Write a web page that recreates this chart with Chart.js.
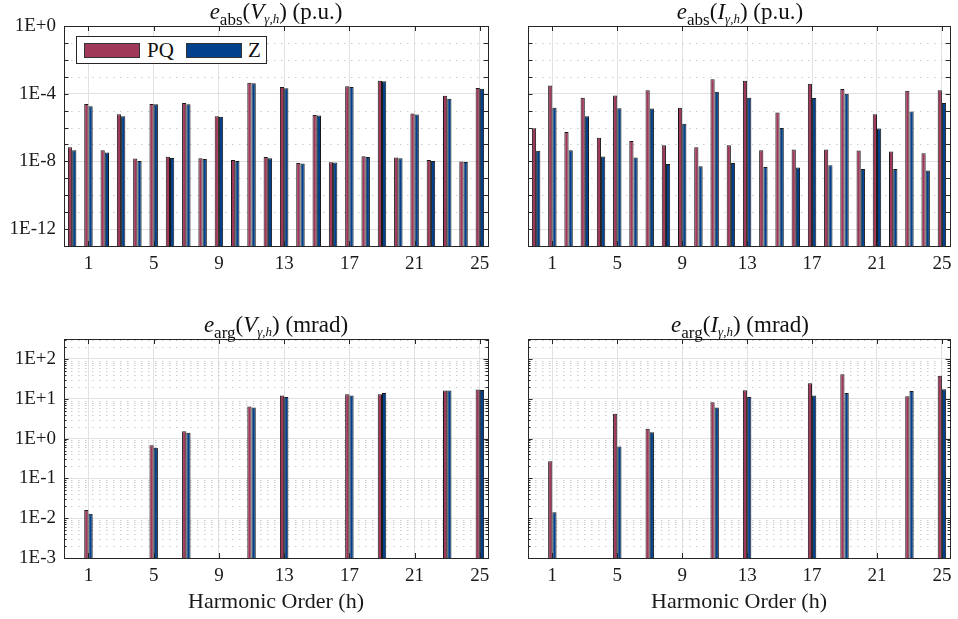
<!DOCTYPE html>
<html>
<head>
<meta charset="utf-8">
<script src="https://cdn.jsdelivr.net/npm/chart.js@4.4.0/dist/chart.umd.min.js"></script>
<style>
  body { margin: 0; background: #fff; }
  #wrap { position: relative; width: 958px; height: 619px; font-family: 'Liberation Serif', 'DejaVu Serif', serif; color: #111; }
  canvas { position: absolute; }
  .title { position: absolute; font-size: 23px; line-height: 22px; white-space: nowrap; transform: translateX(-50%); }
  .title sub { font-size: 17px; line-height: 0; vertical-align: -6px; }
  .title sub.s2 { font-size: 13px; vertical-align: -4px; }
  #legend { position: absolute; left: 76px; top: 36px; width: 189px; height: 26px; border: 1px solid #262626; background: #fff; }
  #legend .patch { position: absolute; top: 6px; width: 54px; height: 13px; border: 1px solid #333; }
  #legend .lab { position: absolute; top: 2px; font-size: 21px; line-height: 22px; }
</style>
</head>
<body>
<div id="wrap">
  <canvas id="vAbs" width="500" height="300" style="left:0;top:0"></canvas>
  <canvas id="iAbs" width="480" height="300" style="left:478px;top:0"></canvas>
  <canvas id="vArg" width="500" height="319" style="left:0;top:300px"></canvas>
  <canvas id="iArg" width="480" height="319" style="left:478px;top:300px"></canvas>

  <div class="title" style="left:276px;top:1px"><i>e</i><sub>abs</sub>(<i>V</i><sub class="s2"><i>γ</i>,<i>h</i></sub>) (p.u.)</div>
  <div class="title" style="left:740px;top:1px"><i>e</i><sub>abs</sub>(<i>I</i><sub class="s2"><i>γ</i>,<i>h</i></sub>) (p.u.)</div>
  <div class="title" style="left:276px;top:314px"><i>e</i><sub>arg</sub>(<i>V</i><sub class="s2"><i>γ</i>,<i>h</i></sub>) (mrad)</div>
  <div class="title" style="left:740px;top:314px"><i>e</i><sub>arg</sub>(<i>I</i><sub class="s2"><i>γ</i>,<i>h</i></sub>) (mrad)</div>

  <div id="legend">
    <span class="patch" style="left:7px;background:#A0385A"></span><span class="lab" style="left:70px">PQ</span>
    <span class="patch" style="left:109px;background:#00408C"></span><span class="lab" style="left:171px">Z</span>
  </div>
</div>
<script>
// harmonic orders 0..25
const harmonics = ['0', '1', '2', '3', '4', '5', '6', '7', '8', '9', '10', '11', '12',
  '13', '14', '15', '16', '17', '18', '19', '20', '21', '22', '23', '24', '25'];
const xTicks = [1, 5, 9, 13, 17, 21, 25];

// e_abs(V) p.u.
const vAbsPQ = [6.9e-8, 2.5e-5, 4.6e-8, 6.2e-6, 1.5e-8, 2.5e-5, 1.9e-8, 2.8e-5, 1.55e-8, 4.7e-6,
  1.2e-8, 4.5e-4, 1.8e-8, 2.5e-4, 8.1e-9, 5.6e-6, 8.9e-9, 2.8e-4, 2.0e-8, 5.9e-4,
  1.7e-8, 6.8e-6, 1.2e-8, 7.6e-5, 1.0e-8, 2.2e-4];
const vAbsZ = [4.6e-8, 1.8e-5, 3.3e-8, 4.7e-6, 1.07e-8, 2.4e-5, 1.6e-8, 2.4e-5, 1.4e-8, 4.4e-6,
  1.07e-8, 4.1e-4, 1.55e-8, 2.1e-4, 7.4e-9, 5.1e-6, 8.5e-9, 2.5e-4, 1.8e-8, 5.4e-4,
  1.55e-8, 5.9e-6, 1.07e-8, 5.0e-5, 9.3e-9, 1.95e-4];

// e_abs(I) p.u.
const iAbsPQ = [9.1e-7, 3.1e-4, 5.4e-7, 5.8e-5, 2.5e-7, 7.9e-5, 1.6e-7, 1.6e-4, 9.1e-8, 1.5e-5,
  6.9e-8, 7.2e-4, 9.1e-8, 5.9e-4, 4.6e-8, 7.8e-6, 5.0e-8, 3.9e-4, 5.0e-8, 1.9e-4,
  4.4e-8, 6.2e-6, 3.8e-8, 1.5e-4, 3.0e-8, 1.6e-4];
const iAbsZ = [4.2e-8, 1.5e-5, 4.6e-8, 4.7e-6, 1.95e-8, 1.4e-5, 1.7e-8, 1.35e-5, 7.1e-9, 1.7e-6,
  5.2e-9, 1.3e-4, 8.1e-9, 5.8e-5, 4.6e-9, 9.5e-7, 4.4e-9, 5.5e-5, 6.0e-9, 1.0e-4,
  3.5e-9, 8.7e-7, 3.5e-9, 8.9e-6, 2.9e-9, 2.8e-5];

// e_arg(V) mrad (no bar where null)
const vArgPQ = [null, 0.016, null, null, null, 0.68, null, 1.53, null, null, null, 6.4, null,
  12.0, null, null, null, 12.9, null, 12.9, null, null, null, 16.0, null, 17.0];
const vArgZ = [null, 0.013, null, null, null, 0.59, null, 1.39, null, null, null, 6.0, null,
  11.1, null, null, null, 12.0, null, 14.0, null, null, null, 16.0, null, 16.5];

// e_arg(I) mrad
const iArgPQ = [null, 0.27, null, null, null, 4.2, null, 1.75, null, null, null, 8.1, null,
  16.3, null, null, null, 24.5, null, 41, null, null, null, 11.6, null, 38];
const iArgZ = [null, 0.014, null, null, null, 0.63, null, 1.44, null, null, null, 6.0, null,
  11.1, null, null, null, 12.0, null, 14.0, null, null, null, 15.7, null, 17.3];

const absYTicks = [1e-12, 1e-8, 1e-4, 1];
const absYLabels = ['1E-12', '1E-8', '1E-4', '1E+0'];
const argYTicks = [1e-3, 1e-2, 1e-1, 1, 10, 100];
const argYLabels = ['1E-3', '1E-2', '1E-1', '1E+0', '1E+1', '1E+2'];

const pqColor = '#A0385A';
const zColor = '#00408C';
const edge = '#1a1a1a';
const gridColor = '#e1e1e1';
const textColor = '#1a1a1a';
const serif = "'Liberation Serif', 'DejaVu Serif', serif";
const tickFont = { family: serif, size: 19 };

// decades for the abs plots, every one gets a tick, unlabeled ones a dotted line
const absDecades = [];
for (let e = -13; e <= 0; e++) absDecades.push(Math.pow(10, e));
const absDotted = absDecades.filter((v) => !absYTicks.some((t) => Math.abs(Math.log10(t) - Math.log10(v)) < 1e-6));

// minor 2..9 for the arg plots
const argMinor = [];
for (let e = -3; e <= 2; e++) {
  for (let m = 2; m <= 9; m++) {
    const v = m * Math.pow(10, e);
    if (v < 316) argMinor.push(v);
  }
}

// matlab style box, inward ticks and dotted minor grid
const matlabBox = {
  id: 'matlabBox',
  beforeDatasetsDraw(chart, args, opts) {
    const { ctx, chartArea: a } = chart;
    const y = chart.scales.y;
    ctx.save();
    ctx.strokeStyle = '#cccccc';
    ctx.lineWidth = 1;
    ctx.setLineDash([1.5, 5.5]);
    opts.dotted.forEach((v) => {
      const py = Math.round(y.getPixelForValue(v)) + 0.5;
      ctx.beginPath();
      ctx.moveTo(a.left, py);
      ctx.lineTo(a.right, py);
      ctx.stroke();
    });
    ctx.restore();
  },
  afterDraw(chart, args, opts) {
    const { ctx, chartArea: a } = chart;
    const { x, y } = chart.scales;
    ctx.save();
    ctx.strokeStyle = '#262626';
    ctx.lineWidth = 1;
    ctx.beginPath();
    xTicks.forEach((v) => {
      const px = Math.round(x.getPixelForValue(v)) + 0.5;
      ctx.moveTo(px, a.bottom); ctx.lineTo(px, a.bottom - 5);
      ctx.moveTo(px, a.top); ctx.lineTo(px, a.top + 5);
    });
    const yTick = (list, len) => list.forEach((v) => {
      const py = Math.round(y.getPixelForValue(v)) + 0.5;
      ctx.moveTo(a.left, py); ctx.lineTo(a.left + len, py);
      ctx.moveTo(a.right, py); ctx.lineTo(a.right - len, py);
    });
    yTick(opts.major, 4.5);
    yTick(opts.minor, 2.5);
    ctx.stroke();
    ctx.strokeRect(Math.round(a.left) + 0.5, Math.round(a.top) + 0.5,
      Math.round(a.right - a.left), Math.round(a.bottom - a.top));
    ctx.restore();
  }
};

function makeChart(id, pq, z, o) {
  return new Chart(document.getElementById(id), {
    type: 'bar',
    data: {
      labels: harmonics,
      datasets: [
        { label: 'PQ', data: pq, backgroundColor: pqColor, borderColor: edge, borderWidth: 1,
          categoryPercentage: 0.52, barPercentage: 1 },
        { label: 'Z', data: z, backgroundColor: zColor, borderColor: edge, borderWidth: 1,
          categoryPercentage: 0.52, barPercentage: 1 }
      ]
    },
    options: {
      responsive: false,
      animation: false,
      layout: { padding: { top: o.top, right: o.right, left: 0, bottom: 0 } },
      plugins: {
        legend: { display: false },
        tooltip: { enabled: false },
        matlabBox: { dotted: o.dotted, major: o.major, minor: o.minor }
      },
      scales: {
        x: {
          type: 'category',
          offset: true,
          grid: { offset: false, drawTicks: false, color: gridColor },
          border: { display: false },
          afterBuildTicks: (s) => { s.ticks = xTicks.map((v) => ({ value: v })); },
          afterFit: (s) => { s.height = o.xHeight; },
          ticks: { font: tickFont, color: textColor, padding: 6.5, maxRotation: 0, autoSkip: false },
          title: {
            display: o.xTitle,
            text: 'Harmonic Order (h)',
            color: textColor,
            font: { family: serif, size: 22 },
            padding: { top: 0, bottom: 4 }
          }
        },
        y: {
          type: 'logarithmic',
          min: o.min,
          max: o.max,
          bounds: 'data',
          grid: { drawTicks: false, color: gridColor },
          border: { display: false },
          afterBuildTicks: (s) => { s.ticks = o.yTicks.map((v) => ({ value: v })); },
          afterFit: (s) => { s.width = o.yWidth; },
          ticks: {
            display: o.showY,
            autoSkip: false,
            font: tickFont,
            color: textColor,
            padding: 8,
            callback: (v, i) => o.yLabels[i]
          }
        }
      }
    },
    plugins: [matlabBox]
  });
}

const absOpts = { min: 1e-13, max: 1, yTicks: absYTicks, yLabels: absYLabels,
  dotted: absDotted, major: absDecades, minor: [], top: 26, xHeight: 54, xTitle: false };
const argOpts = { min: 1e-3, max: 316, yTicks: argYTicks, yLabels: argYLabels,
  dotted: argMinor, major: argYTicks, minor: argMinor, top: 39, xHeight: 61, xTitle: true };

makeChart('vAbs', vAbsPQ, vAbsZ, { ...absOpts, right: 12, yWidth: 64, showY: true });
makeChart('iAbs', iAbsPQ, iAbsZ, { ...absOpts, right: 5, yWidth: 50, showY: false });
makeChart('vArg', vArgPQ, vArgZ, { ...argOpts, right: 12, yWidth: 64, showY: true });
makeChart('iArg', iArgPQ, iArgZ, { ...argOpts, right: 5, yWidth: 50, showY: false });
</script>
</body>
</html>
